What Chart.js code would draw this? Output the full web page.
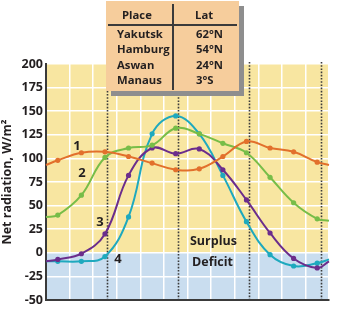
<!DOCTYPE html>
<html>
<head>
<meta charset="utf-8">
<script src="https://cdn.jsdelivr.net/npm/chart.js@4/dist/chart.umd.min.js"></script>
<style>
  html, body { margin:0; padding:0; background:#fff; }
  #wrap { position:relative; width:353px; height:322px; overflow:hidden; }
  canvas { position:absolute; left:0; top:0; }
  #tbl { position:absolute; left:106px; top:1px; width:133px; height:90px; background:#f6cd9c;
         box-shadow:5px 5px 0 #8e8e8e; font-family:"Open Sans", sans-serif; font-weight:700; font-size:11.3px; color:#231f20; }
  #tbl span { position:absolute; white-space:nowrap; line-height:14px; }
  #tbl .hl { position:absolute; left:2px; top:23px; width:129px; height:2px; background:#3a3a3a; }
  #tbl .vl { position:absolute; left:66px; top:3px; width:2px; height:86px; background:#3a3a3a; }
</style>
</head>
<body>
<div id="wrap">
  <canvas id="c" width="353" height="322"></canvas>
  <div id="tbl"></div>
</div>
<script>
// ---- data ----
const months = ['Jan','Feb','Mar','Apr','May','Jun','Jul','Aug','Sep','Oct','Nov','Dec'];
const curve1 = [98, 106, 107, 102, 95, 88, 89, 102, 118, 111, 107, 96];   // orange, 1
const curve2 = [40, 61, 101, 111, 114, 132, 126, 116, 106, 80, 53, 36];   // green, 2
const curve3 = [-7, -1, 20, 82, 111, 105, 110, 88, 56, 21, -6, -16];      // purple, 3
const curve4 = [-9, -9, -4, 38, 126, 145, 126, 82, 33, -2, -14, -11];     // teal, 4
// values where each curve meets the left / right edge of the plot
const edge1 = [93, 93];
const edge2 = [38, 34];
const edge3 = [-9, -9];
const edge4 = [-9, -7];
const yTicks = [200, 175, 150, 125, 100, 75, 50, 25, 0, -25, -50];
const seasonMarks = [2.07, 5.1, 8.1, 11.14];
const curveLabels = ['1', '2', '3', '4'];
const curveLabelX = [0.81, 1.03, 1.79, 2.55];
const curveLabelY = [113, 84.5, 32.5, -6.7];
const zoneLabels = ['Surplus', 'Deficit'];
const zoneLabelX = [6.6, 6.56];
const zoneLabelY = [12.4, -10.4];
const places = ['Yakutsk', 'Hamburg', 'Aswan', 'Manaus'];
const lats = ['62°N', '54°N', '24°N', '3°S'];

// ---- table ----
const tbl = document.getElementById('tbl');
function addSpan(txt, l, t) { const s = document.createElement('span'); s.textContent = txt; s.style.left = l + 'px'; s.style.top = t + 'px'; tbl.appendChild(s); }
addSpan('Place', 16, 7);
addSpan('Lat', 89, 7);
places.forEach((p, i) => addSpan(p, 11, 26 + i * 15.4));
lats.forEach((p, i) => addSpan(p, 90, 26 + i * 15.4));
const hl = document.createElement('div'); hl.className = 'hl'; tbl.appendChild(hl);
const vl = document.createElement('div'); vl.className = 'vl'; tbl.appendChild(vl);

// ---- chart ----
function series(vals, edge) {
  const pts = [{x: -0.5, y: edge[0]}];
  vals.forEach((v, i) => pts.push({x: i, y: v}));
  pts.push({x: 11.5, y: edge[1]});
  return pts;
}
function radii(n) { const r = [0]; for (let i = 0; i < n; i++) r.push(2.6); r.push(0); return r; }

const FONT = '"Open Sans", sans-serif';
const colors = ['#e2702c', '#77bd48', '#6b2d8c', '#1ea9be'];
const vals = [curve1, curve2, curve3, curve4];
const edges = [edge1, edge2, edge3, edge4];

const bgPlugin = {
  id: 'bg',
  beforeDraw(chart) {
    const {ctx, chartArea: a, scales: {y}} = chart;
    const y0 = y.getPixelForValue(0);
    ctx.save();
    ctx.fillStyle = '#f8e6a1';
    ctx.fillRect(a.left, a.top, a.right - a.left, y0 - a.top);
    ctx.fillStyle = '#c9ddef';
    ctx.fillRect(a.left, y0, a.right - a.left, a.bottom - y0);
    ctx.restore();
  },
  beforeDatasetsDraw(chart) {
    const {ctx, chartArea: a, scales: {x}} = chart;
    ctx.save();
    ctx.strokeStyle = '#3b3b3b';
    ctx.lineWidth = 1.6;
    ctx.setLineDash([1.6, 1.6]);
    seasonMarks.forEach(m => {
      const px = Math.round(x.getPixelForValue(m)) + 0.5;
      ctx.beginPath(); ctx.moveTo(px, a.top - 2); ctx.lineTo(px, a.bottom); ctx.stroke();
    });
    ctx.restore();
  },
  afterDatasetsDraw(chart) {
    const {ctx, scales: {x, y}} = chart;
    ctx.save();
    ctx.fillStyle = '#231f20';
    ctx.textAlign = 'center';
    ctx.textBaseline = 'middle';
    ctx.font = 'bold 13px ' + FONT;
    curveLabels.forEach((t, i) => ctx.fillText(t, x.getPixelForValue(curveLabelX[i]), y.getPixelForValue(curveLabelY[i])));
    ctx.font = 'bold 12.5px ' + FONT;
    zoneLabels.forEach((t, i) => ctx.fillText(t, x.getPixelForValue(zoneLabelX[i]), y.getPixelForValue(zoneLabelY[i])));
    ctx.restore();
  }
};

new Chart(document.getElementById('c'), {
  type: 'line',
  data: {
    datasets: vals.map((v, i) => ({
      label: curveLabels[i],
      data: series(v, edges[i]),
      borderColor: colors[i],
      backgroundColor: colors[i],
      pointBackgroundColor: colors[i],
      pointBorderWidth: 0,
      pointRadius: radii(v.length),
      borderWidth: 2,
      tension: 0.4,
      fill: false
    }))
  },
  options: {
    responsive: false,
    animation: false,
    clip: false,
    layout: { padding: { left: 0, top: 64, right: 24, bottom: 22 } },
    plugins: { legend: { display: false }, tooltip: { enabled: false } },
    scales: {
      x: {
        type: 'linear', min: -0.5, max: 11.5,
        afterBuildTicks(s) { s.ticks = []; for (let k = -0.5; k <= 11.5; k += 1) s.ticks.push({value: k}); },
        afterFit(s) { s.height = 0; },
        ticks: { display: false },
        grid: { color: '#ffffff', lineWidth: 1.5, drawTicks: false },
        border: { display: true, color: '#3a3a3a', width: 2 }
      },
      y: {
        min: -50, max: 200,
        afterBuildTicks(s) { s.ticks = yTicks.map(v => ({value: v})); },
        afterFit(s) { s.width = 46; },
        ticks: { color: '#231f20', font: { family: FONT, size: 12.5, weight: 'bold' }, padding: 3 },
        grid: { color: '#ffffff', lineWidth: 1.5, drawTicks: false },
        border: { display: true, color: '#3a3a3a', width: 2 },
        title: { display: true, text: 'Net radiation, W/m²', color: '#231f20', font: { family: FONT, size: 12.5, weight: 'bold' }, padding: { top: 0, bottom: 2 } }
      }
    }
  },
  plugins: [bgPlugin]
});
</script>
</body>
</html>
